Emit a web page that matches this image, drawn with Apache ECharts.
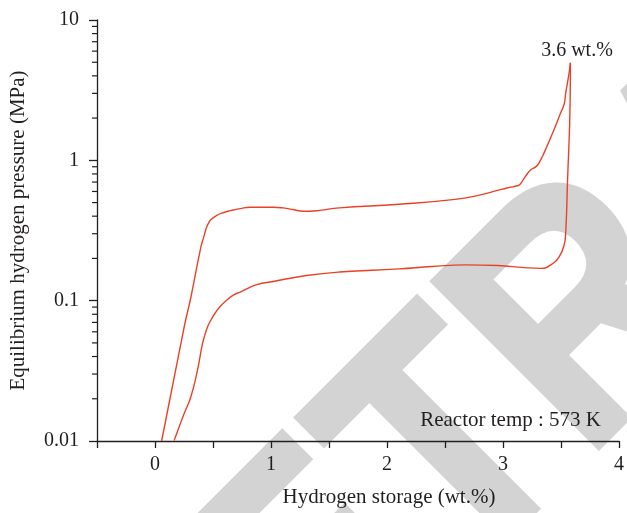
<!DOCTYPE html>
<html>
<head>
<meta charset="utf-8">
<script src="https://cdn.jsdelivr.net/npm/echarts@6/dist/echarts.min.js"></script>
<style>
html, body { margin: 0; padding: 0; background: #fff; }
#main { width: 627px; height: 513px; }
</style>
</head>
<body>
<div id="main"></div>
<script>
// absorption branch (upper curve), x = wt.%, p = MPa
var absorptionX = [0.057, 0.25, 0.308, 0.395, 0.421, 0.440, 0.460, 0.485, 0.536, 0.592, 0.650, 0.735, 0.821, 1.020, 1.105, 1.191, 1.276, 1.333, 1.419, 1.590, 2.103, 2.587, 2.786, 2.985, 3.057, 3.114, 3.143, 3.199, 3.242, 3.285, 3.314, 3.356, 3.442, 3.498, 3.527, 3.541, 3.570, 3.581];
var absorptionP = [0.0100, 0.0641, 0.1045, 0.240, 0.285, 0.325, 0.355, 0.380, 0.407, 0.425, 0.438, 0.453, 0.463, 0.463, 0.458, 0.446, 0.434, 0.434, 0.440, 0.458, 0.486, 0.527, 0.563, 0.621, 0.641, 0.656, 0.670, 0.780, 0.859, 0.902, 0.970, 1.14, 1.67, 2.19, 2.51, 3.03, 4.20, 4.95];

// desorption branch (lower curve)
var desorptionX = [3.581, 3.579, 3.556, 3.541, 3.527, 3.485, 3.413, 3.327, 3.185, 2.957, 2.673, 2.387, 2.103, 1.590, 1.305, 1.020, 0.878, 0.735, 0.678, 0.620, 0.564, 0.520, 0.493, 0.465, 0.450, 0.430, 0.408, 0.365, 0.308, 0.250, 0.208, 0.165];
var desorptionP = [4.95, 2.72, 0.700, 0.310, 0.249, 0.206, 0.180, 0.170, 0.172, 0.178, 0.180, 0.175, 0.1685, 0.160, 0.151, 0.137, 0.130, 0.115, 0.110, 0.101, 0.0913, 0.0820, 0.0754, 0.0685, 0.0641, 0.0570, 0.0488, 0.0316, 0.0205, 0.0156, 0.0126, 0.0101];

var minorTicks = [0.02, 0.03, 0.04, 0.05, 0.06, 0.07, 0.08, 0.09,
                  0.2, 0.3, 0.4, 0.5, 0.6, 0.7, 0.8, 0.9,
                  2, 3, 4, 5, 6, 7, 8, 9];

var ink = '#231f20';
var red = '#ea4126';
var serif = '"Liberation Serif", "Times New Roman", serif';

function pairs(xs, ys) {
    return xs.map(function (x, i) { return [x, ys[i]]; });
}

var myChart = echarts.init(document.getElementById('main'));

var option = {
    animation: false,
    grid: { left: 96, right: 5, top: 20, bottom: 69 },
    xAxis: {
        type: 'value',
        min: -0.5,
        max: 4,
        interval: 0.5,
        name: 'Hydrogen storage (wt.%)',
        nameLocation: 'middle',
        nameGap: 46,
        nameTextStyle: { color: ink, fontFamily: serif, fontSize: 21, padding: [0, 0, 0, 62] },
        axisLine: { onZero: false, lineStyle: { color: ink, width: 1.3 } },
        axisTick: { length: 7, lineStyle: { color: ink, width: 1.3 } },
        axisLabel: {
            color: ink, fontFamily: serif, fontSize: 20, margin: 14,
            formatter: function (v) { return v % 1 === 0 ? String(v) : ''; }
        },
        splitLine: { show: false }
    },
    yAxis: {
        type: 'log',
        logBase: 10,
        min: 0.01,
        max: 10,
        name: 'Equilibrium hydrogen pressure (MPa)',
        nameLocation: 'middle',
        nameGap: 68,
        nameTextStyle: { color: ink, fontFamily: serif, fontSize: 21 },
        axisLine: { show: true, onZero: false, lineStyle: { color: ink, width: 1.3 } },
        axisTick: { length: 8, lineStyle: { color: ink, width: 1.3 } },
        axisLabel: {
            color: ink, fontFamily: serif, fontSize: 20, margin: 18,
            formatter: function (v) { return String(v); }
        },
        splitLine: { show: false }
    },
    series: [
        {
            name: 'absorption',
            type: 'line',
            data: pairs(absorptionX, absorptionP),
            showSymbol: false,
            smooth: 0.5,
            clip: true,
            lineStyle: { color: red, width: 1.4 }
        },
        {
            name: 'desorption',
            type: 'line',
            data: pairs(desorptionX, desorptionP),
            showSymbol: false,
            smooth: 0.5,
            clip: true,
            lineStyle: { color: red, width: 1.4 }
        }
    ]
};

myChart.setOption(option);

// minor ticks at 2..9 of each decade, placed through the axis scale
var axisX = myChart.convertToPixel({ xAxisIndex: 0 }, -0.5);
var graphics = [
    {
        id: 'watermark',
        type: 'text',
        x: 740,
        y: 173,
        rotation: Math.PI / 4,
        scaleX: 0.85,
        z: -10,
        silent: true,
        style: {
            text: 'RETRACTED',
            fontFamily: '"Liberation Sans", Arial, sans-serif',
            fontWeight: 'bold',
            fontSize: 340,
            fill: '#d3d3d3',
            stroke: '#d3d3d3',
            lineWidth: 6,
            align: 'center',
            verticalAlign: 'middle'
        }
    },
    {
        id: 'peak',
        type: 'text',
        x: 577,
        y: 51,
        style: {
            text: '3.6 wt.%',
            fontFamily: serif,
            fontSize: 20,
            fill: ink,
            align: 'center',
            verticalAlign: 'middle'
        }
    },
    {
        id: 'temp',
        type: 'text',
        x: 601,
        y: 420,
        style: {
            text: 'Reactor temp : 573 K',
            fontFamily: serif,
            fontSize: 21,
            fill: ink,
            align: 'right',
            verticalAlign: 'middle'
        }
    }
];
minorTicks.forEach(function (v, i) {
    var py = myChart.convertToPixel({ yAxisIndex: 0 }, v);
    graphics.push({
        id: 'minor' + i,
        type: 'line',
        shape: { x1: axisX - 5, y1: py, x2: axisX, y2: py },
        style: { stroke: ink, lineWidth: 1.2 }
    });
});

myChart.setOption({ graphic: graphics });
</script>
</body>
</html>
